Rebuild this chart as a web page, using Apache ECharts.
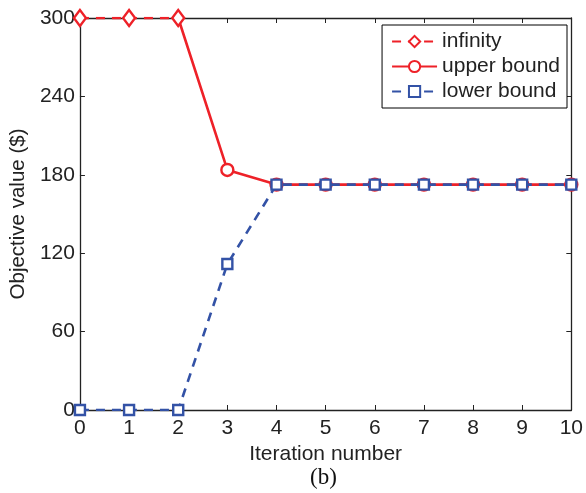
<!DOCTYPE html>
<html><head><meta charset="utf-8">
<script src="https://cdn.jsdelivr.net/npm/echarts@6/dist/echarts.min.js"></script>
<style>html,body{margin:0;padding:0;background:#fff}#c{width:586px;height:493px}</style>
</head><body><div id="c"></div>
<script>
var iterations = [0,1,2,3,4,5,6,7,8,9,10];
var infinityVals = [300,300,300,null,null,null,null,null,null,null,null];
var upperVals = [null,null,300,183.7,172.5,172.5,172.5,172.5,172.5,172.5,172.5];
var lowerVals = [0,0,0,111.7,172.5,172.5,172.5,172.5,172.5,172.5,172.5];
var yTicks = [0,60,120,180,240,300];

var RED = '#ee2128', BLUE = '#3352a6';
var FONT = 'Liberation Sans';
function pairs(v){ return iterations.map(function(x,i){ return [x, v[i]]; }); }
var upperData = pairs(upperVals).map(function(p,i){ return i===2 ? {value:p, symbol:'none'} : p; });

var boxLine = {show:true,onZero:false,lineStyle:{color:'#222',width:1.3}};
var tick = {show:true,inside:true,length:5,lineStyle:{color:'#222'}};

var chart = echarts.init(document.getElementById('c'));
chart.setOption({
  animation:false,
  textStyle:{fontFamily:FONT},
  grid:{left:78,right:10,top:18,bottom:83},
  legend:{
    orient:'vertical', right:19, top:25, backgroundColor:'#fff',
    borderColor:'#000', borderWidth:1, padding:[6,7,6,9], itemGap:4,
    itemWidth:45, itemHeight:14,
    textStyle:{fontSize:21,color:'#222',fontFamily:FONT},
    data:['infinity','upper bound','lower bound']
  },
  xAxis:[{
    type:'value', min:0, max:10, interval:1,
    name:'Iteration number', nameLocation:'middle', nameGap:28,
    nameTextStyle:{fontSize:21,color:'#222'},
    axisLine:boxLine, axisTick:tick,
    axisLabel:{fontSize:21,color:'#222',margin:8},
    splitLine:{show:false}
  },{
    type:'value', min:0, max:10, interval:1, position:'top',
    axisLine:boxLine, axisTick:tick,
    axisLabel:{show:false}, splitLine:{show:false}
  }],
  yAxis:[{
    type:'value', min:0, max:300, interval:60,
    name:'Objective value ($)', nameLocation:'middle', nameGap:43,
    nameTextStyle:{fontSize:20.5,color:'#222'},
    axisLine:boxLine, axisTick:tick,
    axisLabel:{fontSize:21,color:'#222',margin:5,
      formatter:function(v){ return yTicks.indexOf(v)>=0 ? String(v) : ''; }},
    splitLine:{show:false}
  },{
    type:'value', min:0, max:300, interval:60, position:'right',
    axisLine:boxLine, axisTick:tick,
    axisLabel:{show:false}, splitLine:{show:false}
  }],
  graphic:[{
    type:'text', left:310, top:466,
    style:{text:'(b)', font:'23px "Liberation Serif"', fill:'#111'}
  }],
  series:[{
    name:'upper bound', type:'line', data:upperData, connectNulls:false,
    symbol:'circle', symbolSize:12, showAllSymbol:true,
    lineStyle:{color:RED,width:2.6,type:'solid'},
    itemStyle:{color:'#fff',borderColor:RED,borderWidth:2.4},
    z:2
  },{
    name:'infinity', type:'line', data:pairs(infinityVals),
    symbol:'diamond', symbolSize:[12,16], showAllSymbol:true,
    lineStyle:{color:RED,width:2.6,type:[9,7]},
    itemStyle:{color:'#fff',borderColor:RED,borderWidth:2.4},
    z:3
  },{
    name:'lower bound', type:'line', data:pairs(lowerVals),
    symbol:'rect', symbolSize:10, showAllSymbol:true,
    lineStyle:{color:BLUE,width:2.6,type:[9,7]},
    itemStyle:{color:'#fff',borderColor:BLUE,borderWidth:2.4},
    z:4
  }]
});
</script></body></html>
